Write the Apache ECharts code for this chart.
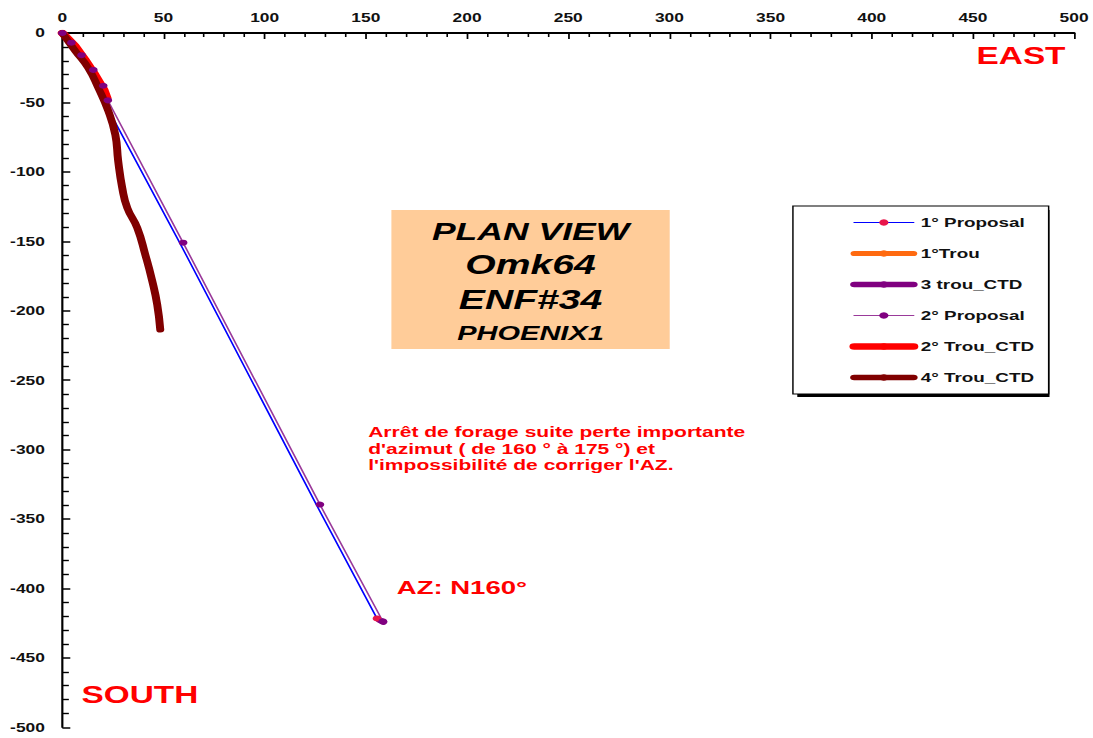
<!DOCTYPE html>
<html>
<head>
<meta charset="utf-8">
<script src="https://cdn.jsdelivr.net/npm/echarts/dist/echarts.min.js"></script>
<style>
  html, body { margin: 0; padding: 0; background: #fff; overflow: hidden; }
  /* the plot is laid out narrow and widened, giving the broad lettering of the sheet */
  #chart { width: 754px; height: 738px; transform: scaleX(1.4496); transform-origin: 0 0; }
</style>
</head>
<body>
<div id="chart"></div>
<script>
// Plan view of the wells: [east (m), south (m, negative)]
const proposal1 = [[0, 0], [4, -7], [8.5, -16], [14, -27], [19, -38], [20.5, -49], [58, -151], [125.5, -339.6], [155.5, -421.6]];
const trou1 = [[0, 0], [3, -5], [6, -10]];
const trou3Ctd = [[157, -423], [158.6, -424.2]];
const proposal2 = [[0, 0], [4.5, -7], [9.5, -16], [15.3, -26.6], [20.2, -38], [22.5, -48.5], [59.7, -151], [127.3, -339.6], [158.4, -423.7]];
const trou2Ctd = [[0, 0], [6, -9], [11, -19], [16, -30], [20.5, -41], [22, -47]];
const trou4Ctd = [[0, 0], [6.4, -12.9], [12.8, -25.2], [17.8, -39.6], [22.7, -56.1], [26.2, -73.4], [27.6, -92.1], [29.6, -111.5], [32.1, -125.9], [37, -140.3], [41, -159.7], [44.4, -178.4], [46.9, -195.7], [48.4, -213.7]];

const seriesNames = ['1° Proposal', '1°Trou', '3 trou_CTD', '2° Proposal', '2° Trou_CTD', '4° Trou_CTD'];

const titleLines = ['PLAN VIEW', 'Omk64', 'ENF#34', 'PHOENIX1'];
const noteText = "Arrêt de forage suite perte importante\nd'azimut ( de 160 ° à 175 °) et\nl'impossibilité de corriger l'AZ.";
const azText = 'AZ: N160°';
const eastText = 'EAST';
const southText = 'SOUTH';

const FONT = "'Liberation Sans', Arial, sans-serif";
const INK = '#111';

const chart = echarts.init(document.getElementById('chart'), null, { renderer: 'svg' });

function thickLine(name, data, color, width) {
  return {
    name, type: 'line', data,
    symbol: 'none', showSymbol: false,
    itemStyle: { color },
    lineStyle: { color, width, cap: 'round', join: 'round' },
    silent: true
  };
}

const lastP1 = proposal1.length - 1;

chart.setOption({
  animation: false,
  backgroundColor: '#fff',
  grid: { left: 43, right: 12.4, top: 33, bottom: 10.7, containLabel: false },
  xAxis: {
    type: 'value', position: 'top', min: 0, max: 500, interval: 50,
    axisLine: { onZero: false, lineStyle: { color: '#000', width: 2 } },
    axisTick: { inside: true, length: 6, lineStyle: { color: '#000', width: 1.2 } },
    minorTick: { show: true, splitNumber: 5, length: 4, lineStyle: { color: '#000', width: 1.1 } },
    splitLine: { show: false },
    axisLabel: { margin: 9, color: INK, fontSize: 12, fontWeight: 'bold', fontFamily: FONT }
  },
  yAxis: {
    type: 'value', min: -500, max: 0, interval: 50,
    axisLine: { onZero: false, lineStyle: { color: '#000', width: 1.5 } },
    axisTick: { inside: true, length: 5.5, lineStyle: { color: '#000', width: 1.5 } },
    minorTick: { show: true, splitNumber: 5, length: 4.5, lineStyle: { color: '#000', width: 1.4 } },
    splitLine: { show: false },
    axisLabel: { margin: 12, color: INK, fontSize: 12, fontWeight: 'bold', fontFamily: FONT }
  },
  legend: {
    orient: 'vertical', left: 547, top: 206,
    itemWidth: 41, itemHeight: 8, itemGap: 18,
    padding: [10, 10, 10, 39],
    backgroundColor: '#fff', borderColor: '#000', borderWidth: 1,
    selectedMode: false, z: 10,
    lineStyle: { width: 'inherit', cap: 'round' },
    textStyle: { fontSize: 13, fontWeight: 'bold', color: INK, fontFamily: FONT },
    data: seriesNames
  },
  graphic: [
    // drop shadow behind the legend box
    { type: 'rect', z: 1, shape: { x: 550, y: 210, width: 174, height: 187 }, style: { fill: '#000' } },
    // title panel
    { type: 'rect', z: 1, shape: { x: 270, y: 210, width: 192, height: 139 }, style: { fill: '#FFCC99' } },
    { type: 'text', z: 2, x: 366, y: 231, style: { text: titleLines[0], fill: '#000', font: 'italic bold 24.5px ' + FONT, align: 'center', verticalAlign: 'middle' } },
    { type: 'text', z: 2, x: 366, y: 265, style: { text: titleLines[1], fill: '#000', font: 'italic bold 27px ' + FONT, align: 'center', verticalAlign: 'middle' } },
    { type: 'text', z: 2, x: 366, y: 300, style: { text: titleLines[2], fill: '#000', font: 'italic bold 27px ' + FONT, align: 'center', verticalAlign: 'middle' } },
    { type: 'text', z: 2, x: 366, y: 333, style: { text: titleLines[3], fill: '#000', font: 'italic bold 20px ' + FONT, align: 'center', verticalAlign: 'middle' } },
    // notes
    { type: 'text', z: 2, x: 254, y: 424.5, style: { text: noteText, fill: '#FF0000', font: 'bold 14.5px ' + FONT, lineHeight: 16.3, align: 'left', verticalAlign: 'top' } },
    { type: 'text', z: 2, x: 273.7, y: 588, style: { text: azText, fill: '#FF0000', font: 'bold 19px ' + FONT, align: 'left', verticalAlign: 'middle' } },
    { type: 'text', z: 2, x: 673.7, y: 56, style: { text: eastText, fill: '#FF0000', font: 'bold 23px ' + FONT, align: 'left', verticalAlign: 'middle' } },
    { type: 'text', z: 2, x: 56.3, y: 695, style: { text: southText, fill: '#FF0000', font: 'bold 23px ' + FONT, align: 'left', verticalAlign: 'middle' } }
  ],
  series: [
    {
      name: seriesNames[0], type: 'line', data: proposal1,
      symbol: 'circle',
      symbolSize: (v, p) => (p.dataIndex === lastP1 ? 6 : 0),
      itemStyle: { color: '#E8154A' },
      lineStyle: { color: '#0000FF', width: 1.2 },
      silent: true
    },
    thickLine(seriesNames[1], trou1, '#FF6A10', 5),
    thickLine(seriesNames[2], trou3Ctd, '#800080', 5.5),
    {
      name: seriesNames[3], type: 'line', data: proposal2,
      symbol: 'circle', symbolSize: 6,
      itemStyle: { color: '#800080' },
      lineStyle: { color: '#9A3A9A', width: 1.2 },
      silent: true
    },
    thickLine(seriesNames[4], trou2Ctd, '#FF0000', 6.5),
    Object.assign(thickLine(seriesNames[5], trou4Ctd, '#800000', 5.5), { smooth: 0.5 })
  ]
});
</script>
</body>
</html>
